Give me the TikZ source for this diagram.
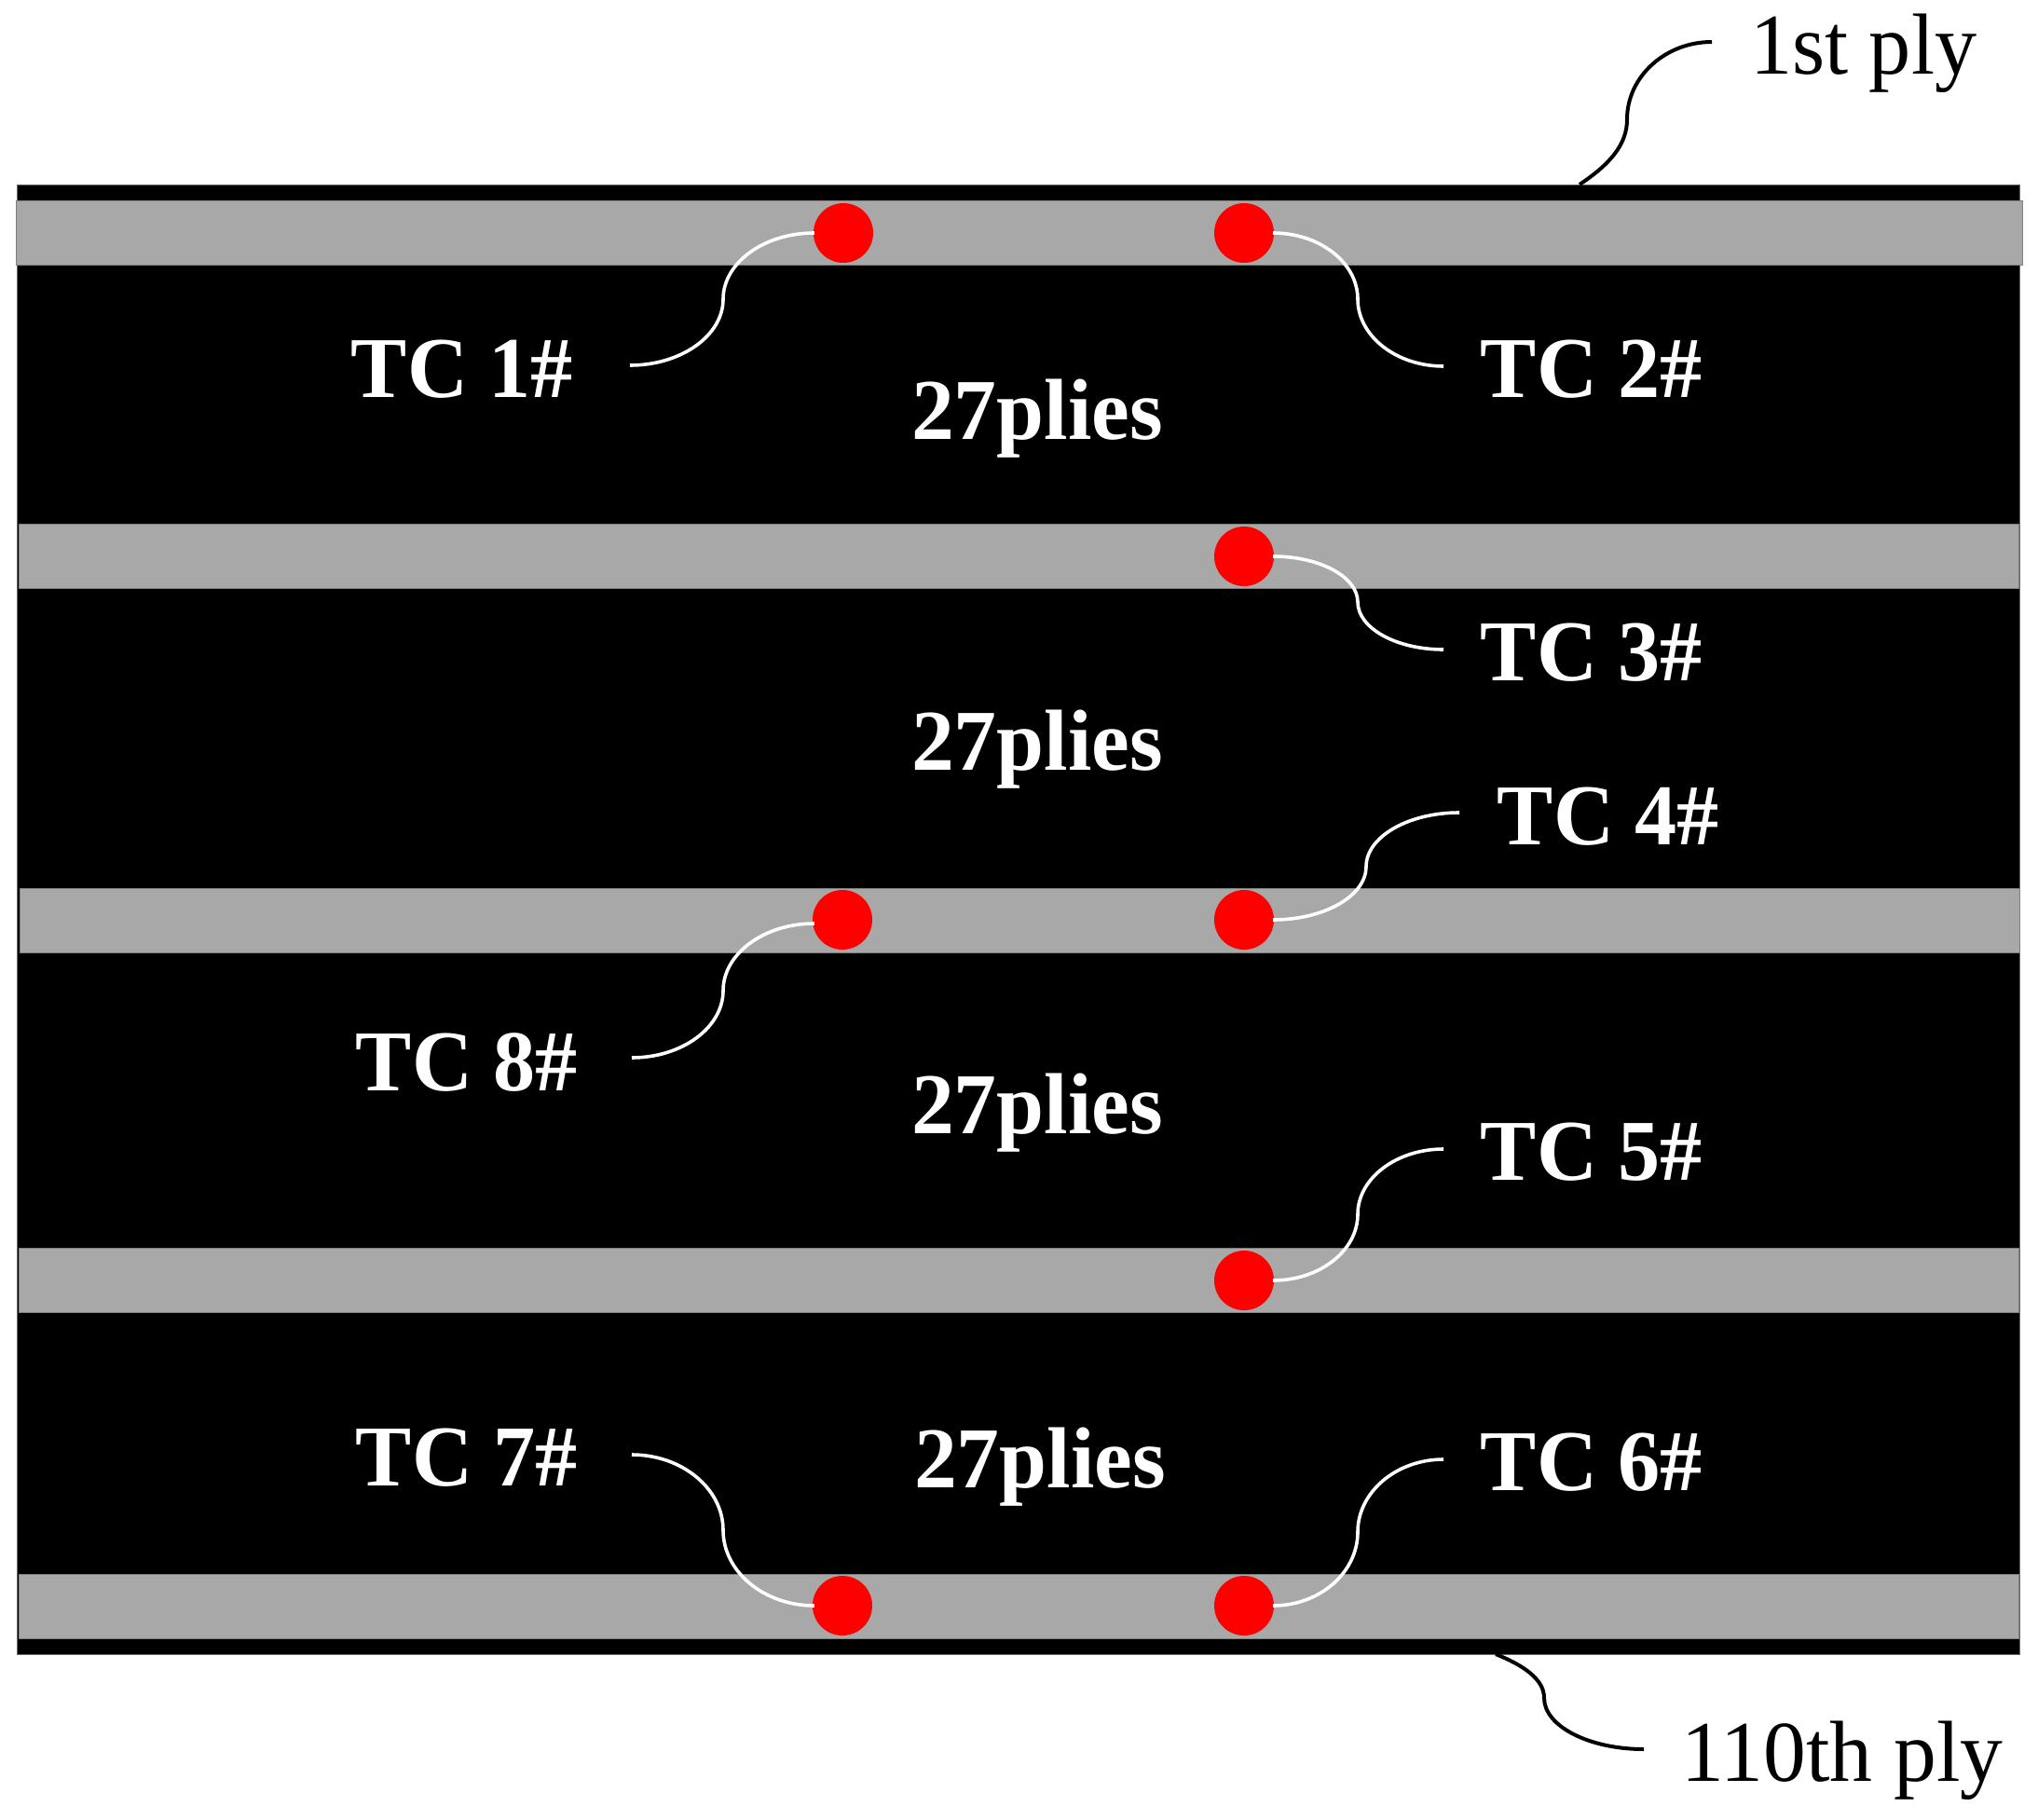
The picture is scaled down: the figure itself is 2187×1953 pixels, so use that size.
\documentclass[tikz,border=0pt]{standalone}
\usepackage{fontspec}
\setmainfont{Liberation Serif}
\newfontfamily\narrowserif[FakeStretch=0.97]{Liberation Serif}
\newfontfamily\wideserif[FakeStretch=0.985]{Liberation Serif}
\usetikzlibrary{calc}
\newcommand{\wirepath}[3]{(#1) .. controls ($(#1)!0.55!(#1-|#2)$) and ($(#2)!0.55!(#1-|#2)$) .. (#2) .. controls ($(#2)!0.55!(#3-|#2)$) and ($(#3)!0.55!(#3-|#2)$) .. (#3)}
\tikzset{
  x=1pt,y=-1pt,
  panel/.style={fill=black,draw=black!60,line width=0.8pt},
  plyband/.style={fill=black!34,draw=black!50,line width=0.8pt},
  tc/.style={circle,fill=red,draw=none,minimum size=64pt,inner sep=0pt},
  wire/.style={white,line width=3.6pt},
  blackwire/.style={black,line width=4pt},
  lab/.style={text=white,font=\fontsize{93}{93}\narrowserif\bfseries\selectfont,anchor=base,inner sep=0pt},
  pliesl/.style={text=white,font=\fontsize{93}{93}\wideserif\bfseries\selectfont,anchor=base,inner sep=0pt},
  plylab/.style={text=black,font=\fontsize{93}{93}\narrowserif\selectfont,anchor=base west,inner sep=0pt},
  lastlab/.style={text=black,font=\fontsize{93}{93}\wideserif\selectfont,anchor=base west,inner sep=0pt}
}
\begin{document}
\begin{tikzpicture}
\useasboundingbox (0,0) rectangle (2187,1953);
\fill[white] (0,0) rectangle (2187,1953);
\node[panel,minimum width=2149pt,minimum height=1577pt,inner sep=0pt,anchor=north west] (board) at (18,198) {};
\node[plyband,minimum width=2153pt,minimum height=69pt,inner sep=0pt,anchor=north west] (b1) at (17,215) {};
\node[plyband,minimum width=2146pt,minimum height=69pt,inner sep=0pt,anchor=north west] (b2) at (20,562) {};
\node[plyband,minimum width=2146pt,minimum height=69pt,inner sep=0pt,anchor=north west] (b3) at (21,953) {};
\node[plyband,minimum width=2146pt,minimum height=69pt,inner sep=0pt,anchor=north west] (b4) at (20,1339) {};
\node[plyband,minimum width=2146pt,minimum height=69pt,inner sep=0pt,anchor=north west] (b5) at (20,1689) {};
\node[tc] (c1) at (905,250) {};
\node[tc] (c2) at (1335,250) {};
\node[tc] (c3) at (1335,597) {};
\node[tc] (c4) at (1335,987) {};
\node[tc] (c8) at (904,987) {};
\node[tc] (c5) at (1335,1374) {};
\node[tc] (c7) at (904,1723) {};
\node[tc] (c6) at (1335,1723) {};
\node[lab] (t1) at (496,426) {TC 1\#};
\node[lab] (t2) at (1708,426) {TC 2\#};
\node[lab] (t3) at (1708,730) {TC 3\#};
\node[lab] (t4) at (1726,906) {TC 4\#};
\node[lab] (t8) at (501,1170) {TC 8\#};
\node[lab] (t5) at (1708,1266) {TC 5\#};
\node[lab] (t7) at (501,1594) {TC 7\#};
\node[lab] (t6) at (1708,1599) {TC 6\#};
\node[pliesl] (p1) at (1113,471) {27plies};
\node[pliesl] (p2) at (1113,826) {27plies};
\node[pliesl] (p3) at (1113,1216) {27plies};
\node[pliesl] (p4) at (1116,1596) {27plies};
\node[plylab] (first) at (1878,80) {1st ply};
\node[lastlab] (last) at (1804,1911) {110th ply};
% wire way-points
\coordinate (m1) at (776,321); \coordinate (e1) at (676,392);
\coordinate (m2) at (1457,321); \coordinate (e2) at (1549,393);
\coordinate (m3) at (1457,646); \coordinate (e3) at (1549,697);
\coordinate (m4) at (1466,930); \coordinate (e4) at (1566,872);
\coordinate (m8) at (776,1063); \coordinate (e8) at (678,1135);
\coordinate (m5) at (1457,1303); \coordinate (e5) at (1549,1233);
\coordinate (m7) at (776,1642); \coordinate (e7) at (678,1561);
\coordinate (m6) at (1457,1644); \coordinate (e6) at (1549,1566);
\coordinate (s1) at ($(c1.west)+(1,0)$);
\coordinate (s2) at ($(c2.east)+(-1,0)$);
\coordinate (s3) at ($(c3.east)+(-1,0)$);
\coordinate (s4) at ($(c4.east)+(-1,0)$);
\coordinate (s8) at ($(c8.west)+(2,4)$);
\coordinate (s5) at ($(c5.east)+(-1,0)$);
\coordinate (s7) at ($(c7.west)+(2,0)$);
\coordinate (s6) at ($(c6.east)+(-1,0)$);
\draw[wire] \wirepath{s1}{m1}{e1};
\draw[wire] \wirepath{s2}{m2}{e2};
\draw[wire] \wirepath{s3}{m3}{e3};
\draw[wire] \wirepath{s4}{m4}{e4};
\draw[wire] \wirepath{s8}{m8}{e8};
\draw[wire] \wirepath{s5}{m5}{e5};
\draw[wire] \wirepath{s7}{m7}{e7};
\draw[wire] \wirepath{s6}{m6}{e6};
\coordinate (fs) at (1695,198); \coordinate (fm) at (1746,128); \coordinate (fe) at (1837,45);
\coordinate (ls) at (1605,1775); \coordinate (lm) at (1657,1822); \coordinate (le) at (1764,1877);
\draw[blackwire] (fs) .. controls (1728,176) and (1746,155) .. (fm) .. controls ($(fm)!0.55!(fe-|fm)$) and ($(fe)!0.55!(fe-|fm)$) .. (fe);
\draw[blackwire] (ls) .. controls (1635,1787) and (1657,1802) .. (lm) .. controls ($(lm)!0.55!(le-|lm)$) and ($(le)!0.55!(le-|lm)$) .. (le);
\end{tikzpicture}
\end{document}
